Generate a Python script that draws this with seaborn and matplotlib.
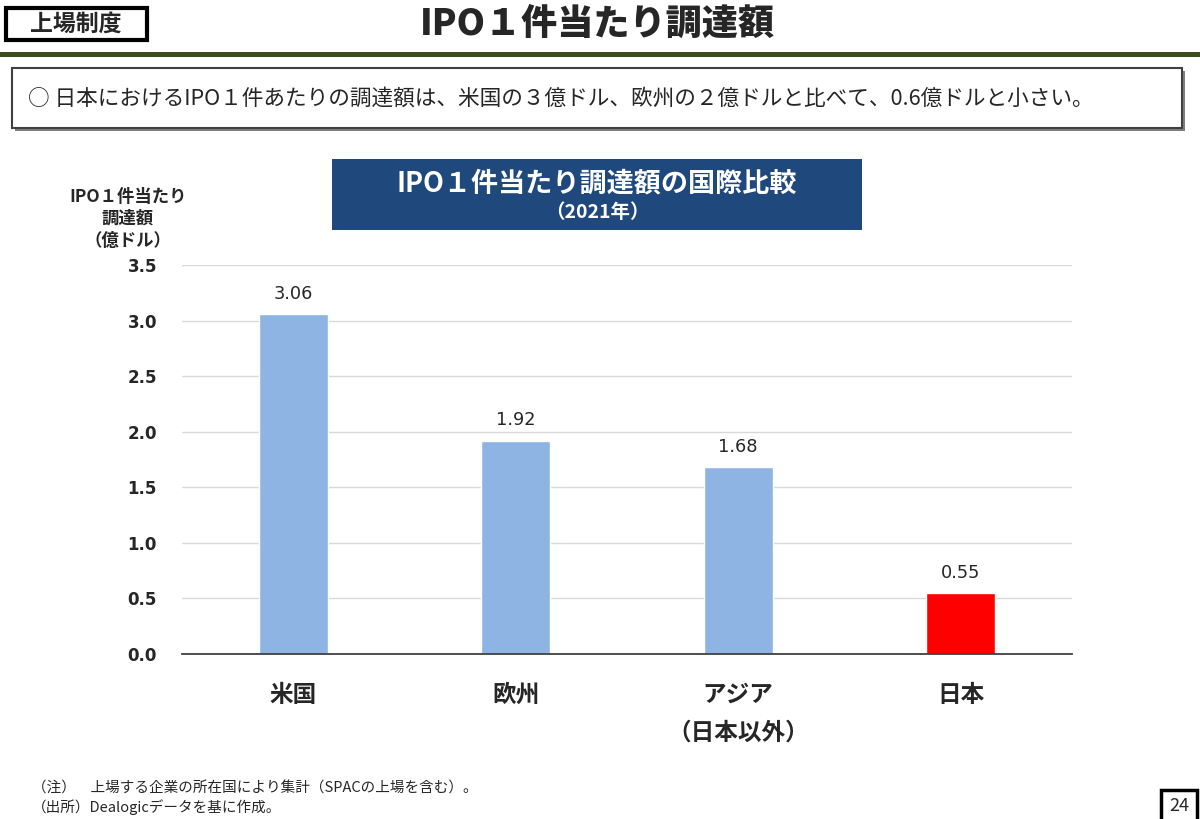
import numpy as np
import pandas as pd
import matplotlib
matplotlib.use("Agg")
import matplotlib.pyplot as plt
from matplotlib.patches import Rectangle
import seaborn as sns

sns.set_theme(style="white")
plt.rcParams['font.family'] = ['Noto Sans CJK JP', 'DejaVu Sans']

# chart data
regions = ["米国", "欧州", "アジア", "日本"]
amounts = [3.06, 1.92, 1.68, 0.55]  # 億ドル, 2021
bar_colors = ["#8eb4e3", "#8eb4e3", "#8eb4e3", "#ff0000"]
y_ticks = [0.0, 0.5, 1.0, 1.5, 2.0, 2.5, 3.0, 3.5]

df = pd.DataFrame({"region": regions, "amount": amounts})

fig = plt.figure(figsize=(12, 8.19), dpi=100)
W, H = 1200, 819

def fx(px):
    return px / W

def fy(py):
    return 1 - py / H

# page header
fig.patches.append(Rectangle((fx(6), fy(40)), fx(141), 32 / H, transform=fig.transFigure,
                             facecolor="white", edgecolor="black", linewidth=3))
fig.text(fx(76), fy(24), "上場制度", ha="center", va="center", fontsize=16.5, fontweight="bold")
fig.text(fx(597), fy(24), "IPO１件当たり調達額", ha="center", va="center", fontsize=26, fontweight="heavy")
fig.patches.append(Rectangle((0, fy(57)), 1, 5 / H, transform=fig.transFigure,
                             facecolor="#3b4d1f", edgecolor="none"))

# summary box
fig.patches.append(Rectangle((fx(15), fy(131)), fx(1170), 60 / H, transform=fig.transFigure,
                             facecolor="#7f7f7f", edgecolor="none"))
fig.patches.append(Rectangle((fx(12), fy(128)), fx(1170), 60 / H, transform=fig.transFigure,
                             facecolor="white", edgecolor="#404040", linewidth=1.5))
fig.text(fx(28), fy(99),
         "○ 日本におけるIPO１件あたりの調達額は、米国の３億ドル、欧州の２億ドルと比べて、0.6億ドルと小さい。",
         ha="left", va="center", fontsize=15.6)

# chart title box
fig.patches.append(Rectangle((fx(332), fy(230)), fx(530), 71 / H, transform=fig.transFigure,
                             facecolor="#1f497d", edgecolor="none"))
fig.text(fx(597), fy(183), "IPO１件当たり調達額の国際比較", ha="center", va="center",
         fontsize=19.5, fontweight="bold", color="white")
fig.text(fx(597), fy(213), "（2021年）", ha="center", va="center",
         fontsize=14, fontweight="bold", color="white")

# y axis title
fig.text(fx(128), fy(219), "IPO１件当たり\n調達額\n（億ドル）", ha="center", va="center",
         fontsize=12.5, fontweight="bold", linespacing=1.25)

ax = fig.add_axes([fx(182), fy(654), fx(890), 389 / H])
sns.barplot(data=df, x="region", y="amount", hue="region", palette=bar_colors,
            width=0.31, legend=False, saturation=1, ax=ax)

ax.set_ylim(0, 3.5)
ax.set_xlim(-0.5, len(regions) - 0.5)
ax.set_yticks(y_ticks)
ax.set_yticklabels([f"{t:.1f}" for t in y_ticks], fontsize=12, fontweight="bold",
                   family=["DejaVu Sans"])
ax.yaxis.grid(True, color="#d9d9d9", linewidth=1)
ax.set_axisbelow(True)
for side in ["left", "right", "top"]:
    ax.spines[side].set_visible(False)
ax.spines["bottom"].set_color("#404040")
ax.spines["bottom"].set_linewidth(1.3)
ax.tick_params(axis="y", length=0, pad=18)
ax.tick_params(axis="x", length=0, pad=21)
ax.set_xticks(range(len(regions)))
ax.set_xticklabels(regions, fontsize=17, fontweight="bold")
ax.set_xlabel("")
ax.set_ylabel("")

for i, v in enumerate(amounts):
    ax.text(i, v + 0.1, f"{v:.2f}", ha="center", va="bottom", fontsize=12.8,
            family=["DejaVu Sans"])

ax.text(2, -0.71, "（日本以外）", ha="center", va="center", fontsize=17, fontweight="bold")

# footnotes
fig.text(fx(32), fy(789), "（注）　上場する企業の所在国により集計（SPACの上場を含む）。",
         ha="left", va="center", fontsize=10.5)
fig.text(fx(32), fy(807), "（出所）Dealogicデータを基に作成。", ha="left", va="center", fontsize=10.5)

# page number
fig.patches.append(Rectangle((fx(1161), fy(822)), fx(36), 32 / H, transform=fig.transFigure,
                             facecolor="white", edgecolor="black", linewidth=2.5))
fig.text(fx(1179), fy(806), "24", ha="center", va="center", fontsize=13)

fig.savefig("out.png", dpi=100)
